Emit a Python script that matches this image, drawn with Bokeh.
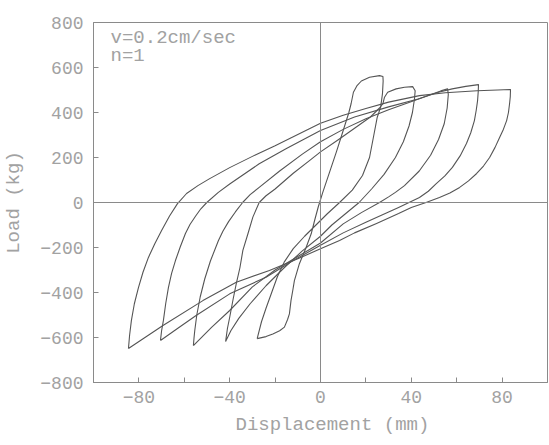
from bokeh.plotting import figure
from bokeh.models import FixedTicker, Span, Label, Title
from bokeh.embed import file_html
from bokeh.resources import INLINE

# ---- data (displacement in mm, load in kg) ----
loop5_x = [-84.6, -84.1, -83.3, -82.0, -80.2, -78.2, -75.8, -73.0, -70.0, -66.5, -63.0, -59.0, -54.0, -49.0,
           -40.0, -30.0, -20.0, -10.0, 0.0, 10.0, 20.0, 30.0, 43.6, 55.0, 69.0, 78.0, 83.7,
           83.6, 83.3, 82.8, 82.0, 80.6, 78.9, 76.9, 74.5, 71.8, 68.8, 65.2, 61.3, 57.0, 52.4, 46.5, 40.0,
           34.4, 24.7, 15.0, 8.4, 0.0, -10.0, -22.5, -37.1, -51.8, -69.4, -84.6]
loop5_y = [-649, -590, -524, -450, -378, -310, -244, -183, -124, -60, -5, 40, 75, 105,
           155, 205, 252, 302, 352, 388, 418, 446, 475, 488, 497, 500, 502,
           470, 440, 400, 364, 326, 289, 245, 200, 162, 129, 96, 67, 42, 22, 0, -22,
           -49, -93, -135, -169, -206, -250, -302, -354, -436, -547, -649]

loop4_x = [-70.5, -70.0, -69.2, -68.2, -67.0, -65.6, -63.9, -61.8, -59.5, -57.5, -55.0, -52.7, -50.1, -45.0,
           -40.0, -27.0, -15.0, 0.0, 15.0, 30.0, 43.0, 52.0, 58.0, 64.0, 69.6,
           69.5, 69.2, 68.6, 67.8, 66.2, 64.3, 61.5, 58.1, 54.8, 51.0, 47.5, 43.6, 39.0, 34.4, 30.0,
           20.0, 10.0, 0.0, -12.0, -24.0, -40.0, -54.8, -63.0, -70.5]
loop4_y = [-613, -570, -524, -450, -378, -315, -258, -198, -138, -98, -60, -28, 0, 45,
           82, 172, 240, 320, 380, 425, 460, 490, 505, 516, 524,
           495, 453, 410, 364, 310, 262, 207, 156, 118, 84, 50, 22, 0, -22, -42,
           -88, -135, -190, -258, -332, -406, -502, -560, -613]

loop3_x = [-56.0, -55.7, -55.4, -54.5, -53.0, -51.0, -48.5, -45.0, -43.0, -40.5, -37.5, -34.3, -31.0, -27.0,
           -18.0, -8.0, 0.0, 10.0, 20.0, 30.0, 40.5, 48.0, 53.0, 56.0,
           56.3, 55.8, 54.5, 52.0, 48.5, 43.5, 37.0, 33.0, 30.0, 26.0, 18.0, 10.0, 0.0, -10.0, -20.0,
           -30.0, -40.0, -48.0, -56.0]
loop3_y = [-636, -600, -570, -500, -420, -340, -260, -170, -128, -85, -42, 0, 35, 67,
           140, 215, 270, 325, 372, 412, 450, 478, 496, 505,
           480, 420, 350, 280, 210, 140, 75, 45, 25, 0, -45, -95, -180, -240, -300,
           -375, -480, -555, -636]

loop2_x = [-41.8, -41.0, -40.0, -38.5, -37.1, -35.5, -34.2, -32.0, -29.8, -27.0, -24.0, -20.0, -12.0, -5.0,
           0.0, 8.0, 15.0, 22.0, 26.0, 27.5, 28.2, 29.6, 33.3, 37.0, 40.6, 41.7,
           41.4, 40.5, 39.0, 36.5, 33.0, 28.0, 22.5, 17.0, 11.0, 5.0, 0.0, -8.0, -16.0, -24.0, -31.0,
           -36.0, -39.5, -41.8]
loop2_y = [-618, -560, -510, -430, -361, -290, -213, -140, -65, 0, 30, 60, 130, 185,
           225, 280, 330, 380, 420, 439, 468, 490, 505, 512, 515, 497,
           460, 400, 340, 270, 200, 125, 60, 0, -50, -100, -150, -215, -290, -370, -450,
           -515, -570, -618]

loop1_x = [-27.9, -24.0, -21.0, -18.0, -15.9, -14.5, -13.7, -13.0, -12.2, -11.5, -9.3, -6.3, -4.1, -2.6,
           -1.0, 1.0, 4.0, 7.0, 10.0, 12.5, 13.5, 14.5, 16.0, 18.0, 21.6, 26.0, 27.5,
           27.6, 27.3, 26.5, 25.0, 23.5, 21.6, 18.5, 14.0, 8.4, 3.0, -2.0, -7.0, -12.0, -16.0, -19.0,
           -21.5, -24.0, -26.0, -27.9]
loop1_y = [-605, -596, -584, -570, -554, -520, -495, -436, -390, -347, -272, -199, -139, -80,
           -20, 45, 135, 225, 320, 400, 440, 490, 518, 540, 557, 564, 560,
           540, 484, 424, 379, 300, 200, 120, 55, 0, -50, -100, -150, -205, -265, -330,
           -400, -470, -530, -605]

x_ticks = [-80, -40, 0, 40, 80]
x_minor = [-100, -60, -20, 20, 60, 100]
y_ticks = [-800, -600, -400, -200, 0, 200, 400, 600, 800]

FONT = "Liberation Mono"
TXT = "#a2a2a2"
AX = "#8a8a8a"
CURVE = "#555555"

p = figure(width=549, height=445, x_range=(-100, 100), y_range=(-800, 800),
           output_backend="svg", toolbar_location=None,
           min_border_left=93, min_border_right=2, min_border_top=22, min_border_bottom=63,
           y_axis_label="Load (kg)")
p.background_fill_color = "white"
p.border_fill_color = "white"
p.outline_line_color = AX
p.outline_line_width = 1
p.xgrid.visible = False
p.ygrid.visible = False

p.xaxis.ticker = FixedTicker(ticks=x_ticks, minor_ticks=x_minor)
p.yaxis.ticker = FixedTicker(ticks=y_ticks)
for ax in (p.xaxis[0], p.yaxis[0]):
    ax.axis_line_color = AX
    ax.major_tick_line_color = AX
    ax.minor_tick_line_color = AX
    ax.major_tick_in = 5
    ax.major_tick_out = 0
    ax.minor_tick_in = 5
    ax.minor_tick_out = 0
    ax.major_label_text_font = FONT
    ax.major_label_text_font_size = "18px"
    ax.major_label_text_color = TXT
    ax.axis_label_text_font = FONT
    ax.axis_label_text_font_size = "19px"
    ax.axis_label_text_font_style = "normal"
    ax.axis_label_text_color = TXT
p.yaxis.minor_tick_line_color = None
p.xaxis.major_label_standoff = 8
p.yaxis.major_label_standoff = 10
p.yaxis.axis_label_standoff = 12

# x-axis title: placed slightly right of the frame centre, as in the original
p.add_layout(Title(text="Displacement (mm)", align="left", offset=142, standoff=12,
                   text_font=FONT, text_font_size="19px", text_font_style="normal",
                   text_color=TXT), "below")

p.add_layout(Span(location=0, dimension="height", line_color=AX, line_width=1))
p.add_layout(Span(location=0, dimension="width", line_color=AX, line_width=1))

for xs, ys in [(loop5_x, loop5_y), (loop4_x, loop4_y), (loop3_x, loop3_y),
               (loop2_x, loop2_y), (loop1_x, loop1_y)]:
    p.line(xs, ys, line_color=CURVE, line_width=1.1, line_join="round")

p.add_layout(Label(x=-92.5, y=733, text="v=0.2cm/sec", text_font=FONT, text_font_size="19px",
                   text_color=TXT, text_baseline="middle"))
p.add_layout(Label(x=-92.5, y=652, text="n=1", text_font=FONT, text_font_size="19px",
                   text_color=TXT, text_baseline="middle"))

open("out.html", "w").write(file_html(p, INLINE))
